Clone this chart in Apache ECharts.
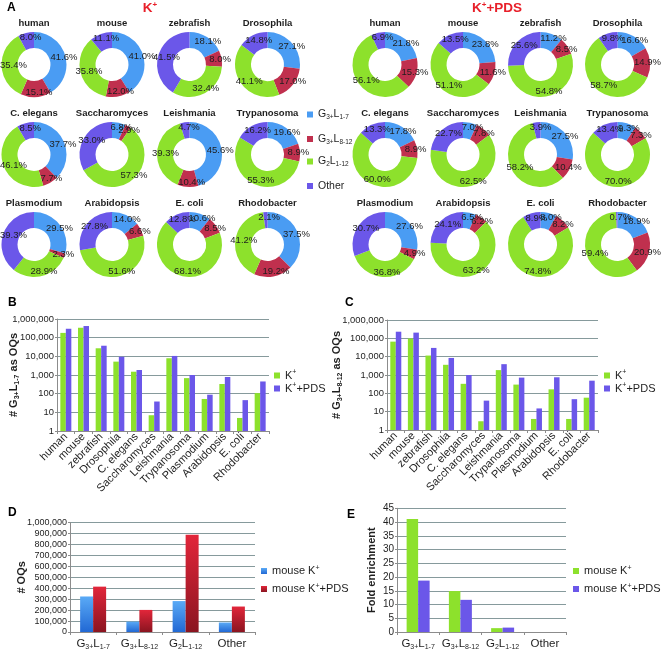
<!DOCTYPE html>
<html><head><meta charset="utf-8">
<script src="https://cdn.jsdelivr.net/npm/echarts@6/dist/echarts.min.js"></script>
<style>html,body{margin:0;padding:0;background:#fff}#c{width:661px;height:651px}</style>
</head><body><div id="c"></div>
<script>
// ---------- DATA ----------
const species = ['human','mouse','zebrafish','Drosophila','C. elegans','Saccharomyces','Leishmania','Trypanosoma','Plasmodium','Arabidopsis','E. coli','Rhodobacter'];
const classKeys = ['g1','g2','g3','other'];
// Panel A, K+ (percent of OQs)
const kG3L1_7  = [41.6,41.0,18.1,27.1,37.7,6.8,45.6,19.6,29.5,14.0,10.6,37.5];
const kG3L8_12 = [15.1,12.0,8.0,17.0,7.7,2.9,10.4,8.9,2.3,6.6,8.5,19.2];
const kG2L1_12 = [35.4,35.8,32.4,41.1,46.1,57.3,39.3,55.3,28.9,51.6,68.1,41.2];
const kOther   = [8.0,11.1,41.5,14.8,8.5,33.0,4.7,16.2,39.3,27.8,12.8,2.1];
// Panel A, K+ + PDS
const pG3L1_7  = [21.8,23.8,11.2,16.6,17.8,7.0,27.5,9.3,27.6,6.5,8.0,18.9];
const pG3L8_12 = [15.3,11.6,8.5,14.9,8.9,7.8,10.4,7.3,4.9,6.2,8.2,20.9];
const pG2L1_12 = [56.1,51.1,54.8,58.7,60.0,62.5,58.2,70.0,36.8,63.2,74.8,59.4];
const pOther   = [6.9,13.5,25.6,9.8,13.3,22.7,3.9,13.4,30.7,24.1,8.9,0.7];
// Panel B: # G3+L1-7 as OQs
const bK   = [180000,340000,27000,5200,1500,7,7900,680,52,330,5,107];
const bPDS = [300000,420000,37000,9500,1850,38,10500,1000,88,780,45,450];
// Panel C: # G3+L8-12 as OQs
const cK   = [66000,98000,11500,3600,330,3,1850,300,4,165,4,58];
const cPDS = [230000,205000,30000,8500,1000,40,3900,720,15,750,48,490];
// Panel D: mouse # OQs
const dCategories = ['G3+L1-7','G3+L8-12','G2L1-12','Other'];
const dK   = [325000,95000,283000,87000];
const dPDS = [415000,202000,890000,233000];
// Panel E: fold enrichment
const eK   = [41.1,14.9,1.4,0];
const ePDS = [18.7,11.7,1.6,0];
// tick labels
const logTicks = [1,10,100,1000,10000,100000,1000000];

// ---------- STYLE ----------
const FF = "'Liberation Sans', Arial, Helvetica, sans-serif";
const BLUE='#4a9cf3', RED='#c0304e', GREEN='#8de12c', PURPLE='#6b57e9';
const GRID='#869a9c', AX='#8c8c8c', TXT='#1e1e1e';
const pieColors = [BLUE, RED, GREEN, PURPLE];

const catRich = {
  m:{fontSize:11.5, fontFamily:FF, color:TXT, lineHeight:15},
  s:{fontSize:7, fontFamily:FF, color:TXT, verticalAlign:'bottom', lineHeight:15}
};
const catMap = {
  'G3+L1-7':'{m|G}{s|3+}{m|L}{s|1-7}',
  'G3+L8-12':'{m|G}{s|3+}{m|L}{s|8-12}',
  'G2L1-12':'{m|G}{s|2}{m|L}{s|1-12}',
  'Other':'{m|Other}'
};
const legRich = {
  m:{fontSize:11, fontFamily:FF, color:TXT, lineHeight:13},
  sup:{fontSize:7, fontFamily:FF, color:TXT, verticalAlign:'top', lineHeight:13},
  n:{fontSize:10.5, fontFamily:FF, color:TXT, lineHeight:13},
  s:{fontSize:6.5, fontFamily:FF, color:TXT, verticalAlign:'bottom', lineHeight:13}
};
const legMap = {
  g1:'{n|G}{s|3+}{n|L}{s|1-7}', g2:'{n|G}{s|3+}{n|L}{s|8-12}', g3:'{n|G}{s|2}{n|L}{s|1-12}', other:'{n|Other}',
  B_k:'{m|K}{sup|+}', B_p:'{m|K}{sup|+}{m|+PDS}', C_k:'{m|K}{sup|+}', C_p:'{m|K}{sup|+}{m|+PDS}',
  D_k:'{m|mouse K}{sup|+}', D_p:'{m|mouse K}{sup|+}{m|+PDS}', E_k:'{m|mouse K}{sup|+}', E_p:'{m|mouse K}{sup|+}{m|+PDS}'
};
const nameRich = {
  b:{fontSize:11, fontWeight:'bold', fontFamily:FF, color:TXT, lineHeight:14},
  bs:{fontSize:7, fontWeight:'bold', fontFamily:FF, color:TXT, verticalAlign:'bottom', lineHeight:14}
};

// ---------- PIES ----------
const series = [];
const graphics = [];
const colsK = [34,112,189.5,267.5], colsP = [385,463,540.5,617.5], rows = [64.5,154.5,244.5];
function addPies(cols, arrs){
  species.forEach((sp,i)=>{
    const cx = cols[i%4], cy = rows[Math.floor(i/4)];
    series.push({
      type:'pie', center:[cx,cy], radius:[16.5,32.5], startAngle:90, clockwise:true,
      avoidLabelOverlap:false, silent:true, animation:false,
      label:{show:true, position:'inside', formatter:p=>p.value.toFixed(1)+'%', fontSize:9.5, fontFamily:FF, color:TXT, textBorderWidth:0},
      labelLine:{show:false},
      labelLayout: function(p){
        let dx = 3.5;
        const r = p.labelRect;
        if (r.x + dx < 0) dx = -r.x;
        if (r.x + r.width + dx > 661) dx = 661 - r.x - r.width;
        return {dx: dx};
      },
      data: classKeys.map((k,j)=>({name:k, value:arrs[j][i], itemStyle:{color:pieColors[j]}}))
    });
    graphics.push({type:'text', x:cx, y:cy-41.5, style:{text:sp, font:'bold 9.5px '+FF, fill:TXT, textAlign:'center', textVerticalAlign:'middle'}});
  });
}
addPies(colsK, [kG3L1_7,kG3L8_12,kG2L1_12,kOther]);
addPies(colsP, [pG3L1_7,pG3L8_12,pG2L1_12,pOther]);

// headers and panel letters
const redRich = {m:{fontSize:13.5, fontWeight:'bold', fontFamily:FF, fill:'#e8202a'}, sup:{fontSize:8, fontWeight:'bold', fontFamily:FF, fill:'#e8202a', verticalAlign:'top'}};
graphics.push({type:'text', x:150, y:8, style:{text:'{m|K}{sup|+}', rich:redRich, textAlign:'center', textVerticalAlign:'middle'}});
graphics.push({type:'text', x:497, y:8, style:{text:'{m|K}{sup|+}{m|+PDS}', rich:redRich, textAlign:'center', textVerticalAlign:'middle'}});
[['A',7,7.5],['B',8,303],['C',345,303],['D',8,513],['E',347,514.5]].forEach(([t,x,y])=>{
  graphics.push({type:'text', x:x, y:y, style:{text:t, font:'bold 12px '+FF, fill:'#000', textAlign:'left', textVerticalAlign:'middle'}});
});

// ---------- BARS ----------
const fmtNum = v => Math.round(v).toLocaleString('en-US');
function catAxis(gi, data, rot){
  return {gridIndex:gi, type:'category', data:data,
    axisLine:{lineStyle:{color:AX}}, axisTick:{show:true, length:3, lineStyle:{color:AX}},
    axisLabel: rot ? {rotate:45, interval:0, fontSize:11, fontFamily:FF, color:TXT, margin:4}
                   : {interval:0, margin:4, formatter:v=>catMap[v], rich:catRich},
    splitLine:{show:false}};
}
function valAxis(gi, opts, name, nameGap, lblSize){
  return Object.assign({gridIndex:gi,
    axisLine:{show:true, lineStyle:{color:AX}}, axisTick:{show:true, length:2, lineStyle:{color:AX}},
    axisLabel:{fontSize:lblSize, fontFamily:FF, color:TXT, margin:3, formatter:fmtNum},
    splitLine:{show:true, lineStyle:{color:GRID, width:1.2}},
    name:name, nameLocation:'middle', nameGap:nameGap, nameMoveOverlap:false, nameTextStyle:{rich:nameRich}}, opts);
}
const grids = [
  {left:57, top:319, width:212, height:112},
  {left:387, top:320, width:211, height:110},
  {left:70, top:522.7, width:185, height:112.3},
  {left:397, top:508.3, width:169, height:125.7}
];
const xAxes = [catAxis(0,species,true), catAxis(1,species,true), catAxis(2,dCategories,false), catAxis(3,dCategories,false)];
const yAxes = [
  valAxis(0,{type:'log', logBase:10, min:logTicks[0], max:logTicks[logTicks.length-1]}, '{b|# G}{bs|3+}{b|L}{bs|1-7}{b| as OQs}', 36, 9.4),
  valAxis(1,{type:'log', logBase:10, min:logTicks[0], max:logTicks[logTicks.length-1]}, '{b|# G}{bs|3+}{b|L}{bs|8-12}{b| as OQs}', 43, 9.4),
  valAxis(2,{type:'value', min:0, max:1000000, interval:100000}, '{b|# OQs}', 41, 9),
  valAxis(3,{type:'value', min:0, max:45, interval:5}, '{b|Fold enrichment}', 18, 10)
];
function bar(name, gi, data, color, w){
  return {type:'bar', name:name, xAxisIndex:gi, yAxisIndex:gi, data:data, barWidth:w, barGap:'0%',
    itemStyle:{color:color}, silent:true, animation:false};
}
const gBlue = {type:'linear',x:0,y:0,x2:0,y2:1,colorStops:[{offset:0,color:'#5aaaf6'},{offset:1,color:'#2168d4'}]};
const gRed  = {type:'linear',x:0,y:0,x2:0,y2:1,colorStops:[{offset:0,color:'#e2263a'},{offset:1,color:'#8a1420'}]};
series.push(bar('B_k',0,bK,GREEN,5.5), bar('B_p',0,bPDS,PURPLE,5.5));
series.push(bar('C_k',1,cK,GREEN,5.5), bar('C_p',1,cPDS,PURPLE,5.5));
series.push(bar('D_k',2,dK,gBlue,13), bar('D_p',2,dPDS,gRed,13));
series.push(bar('E_k',3,eK,GREEN,11.5), bar('E_p',3,ePDS,PURPLE,11.5));

// ---------- LEGENDS ----------
function legend(data, left, top, gap){
  return {data:data, left:left, top:top, orient:'vertical', itemGap:gap, itemWidth:6, itemHeight:6, icon:'rect',
    padding:0, selectedMode:false, formatter:n=>legMap[n], textStyle:{rich:legRich}};
}
const legends = [
  legend(['g1'],307,109,0), legend(['g2'],307,133.5,0), legend(['g3'],307,156,0), legend(['other'],307,180.5,0),
  legend(['B_k','B_p'],274,369,1),
  legend(['C_k','C_p'],604,369,1),
  legend(['D_k','D_p'],261,564.5,6),
  legend(['E_k','E_p'],573,564.5,6)
];

const chart = echarts.init(document.getElementById('c'), null, {renderer:'canvas'});
chart.setOption({
  backgroundColor:'#fff', animation:false,
  textStyle:{fontFamily:FF},
  grid:grids, xAxis:xAxes, yAxis:yAxes, legend:legends, series:series, graphic:graphics
});
</script></body></html>
